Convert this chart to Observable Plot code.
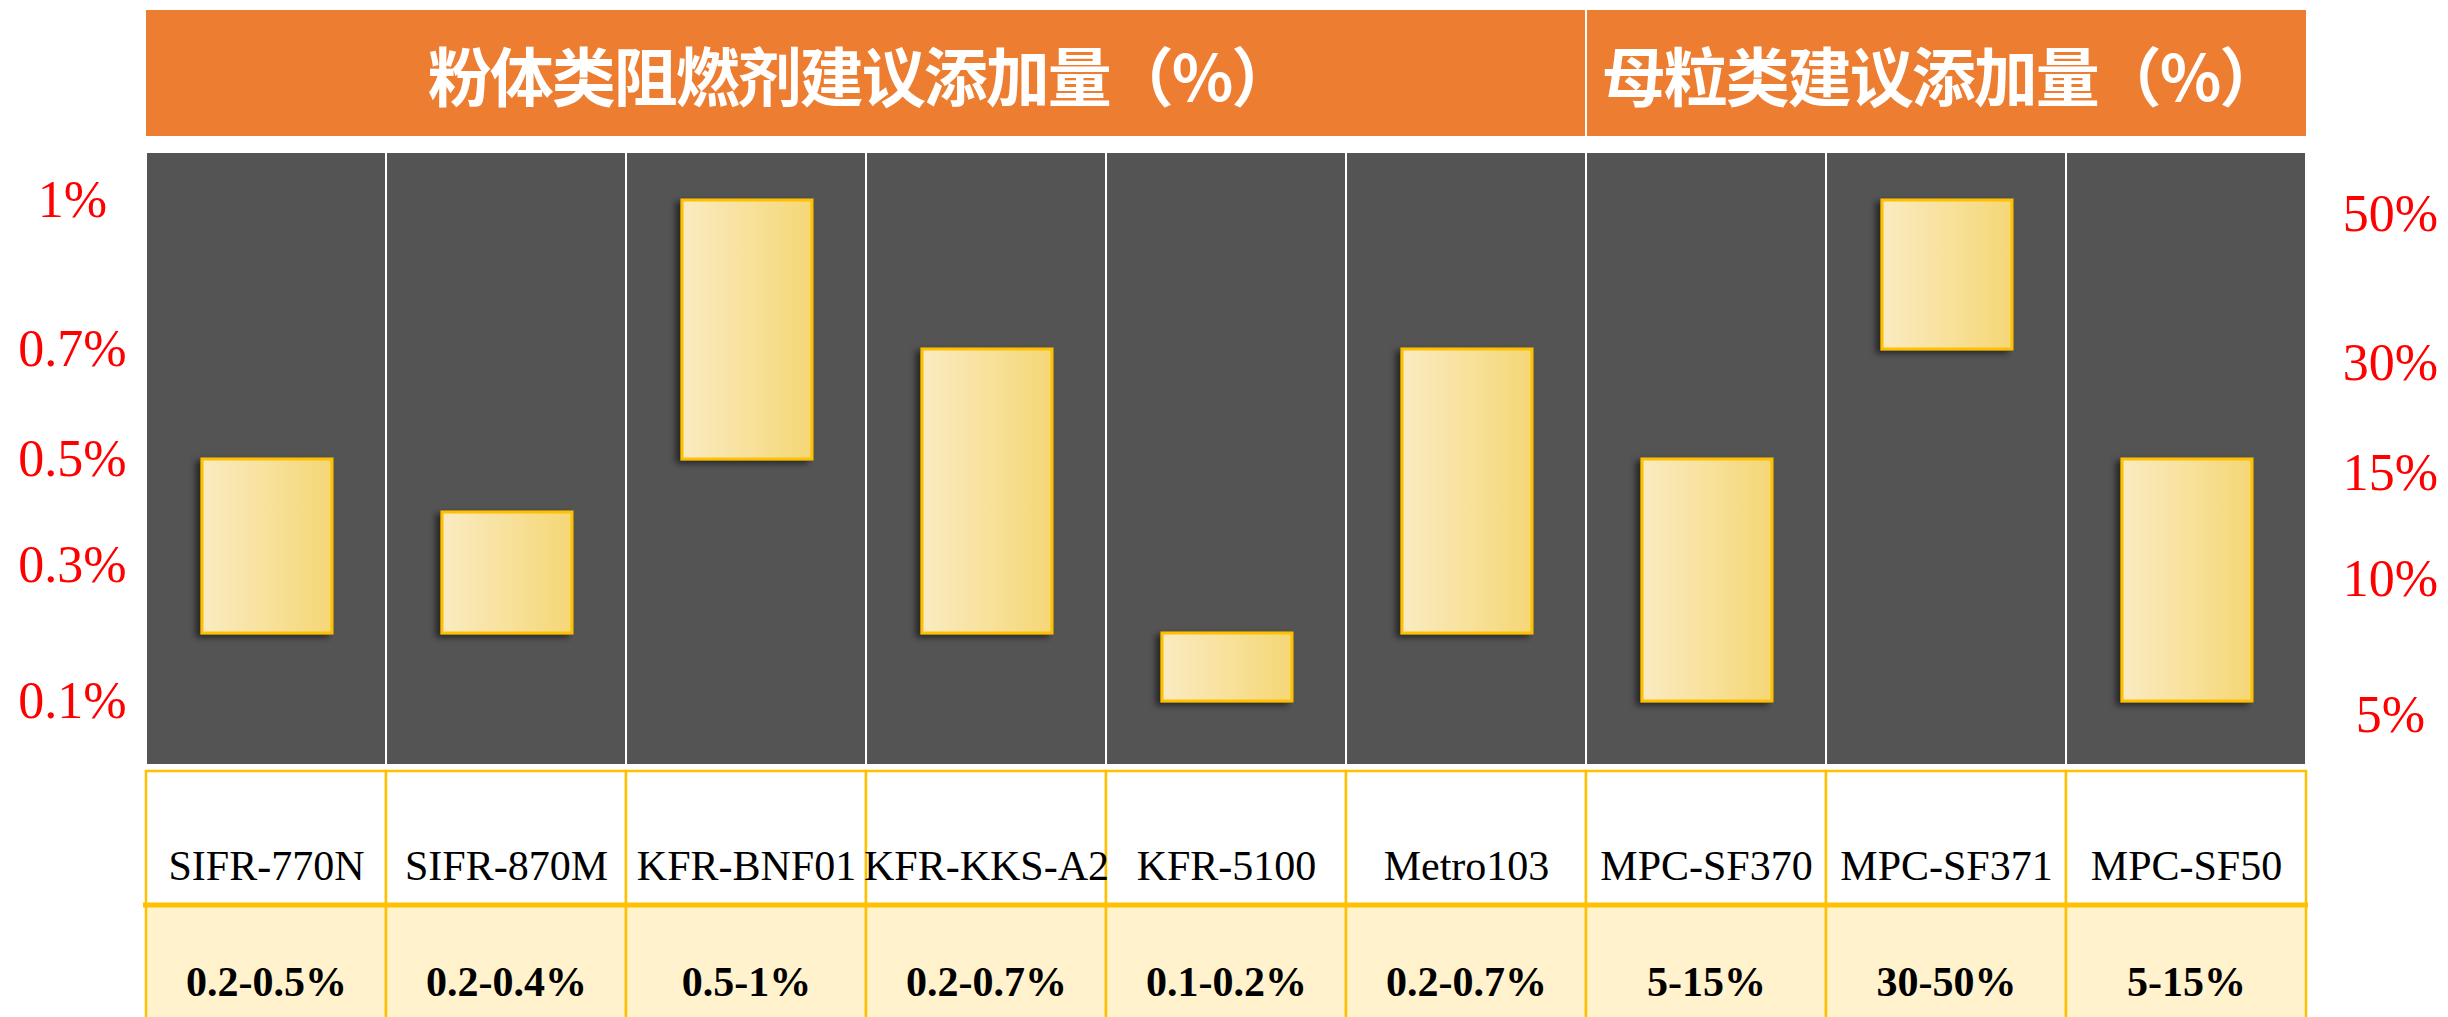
<!DOCTYPE html>
<html>
<head>
<meta charset="utf-8">
<script src="https://cdn.jsdelivr.net/npm/d3@7"></script>
<script src="https://cdn.jsdelivr.net/npm/@observablehq/plot@0.6"></script>
<style>
  html, body { margin: 0; padding: 0; background: #fff; overflow: hidden; }
  #page { position: relative; width: 2448px; height: 1017px; }
  .hdr { position: absolute; top: 10px; height: 126px; background: #ED7D31; color: #fff;
         display: flex; align-items: center; justify-content: center; box-sizing: border-box;
         font-family: "Noto Sans CJK SC", sans-serif; font-weight: 700; font-size: 64px;
         letter-spacing: -2px; white-space: nowrap; }
  #main, #table { position: absolute; left: 0; }
  #main { top: 152px; }
  #table { top: 768px; }
</style>
</head>
<body>
<div id="page">
  <div id="header"></div>
  <div id="main"></div>
  <div id="table"></div>
</div>
<script>
// ---- data ----
const groupTitles = ["粉体类阻燃剂建议添加量（%）", "母粒类建议添加量（%）"];
const powderNames = ["SIFR-770N", "SIFR-870M", "KFR-BNF01", "KFR-KKS-A2", "KFR-5100", "Metro103"];
const masterNames = ["MPC-SF370", "MPC-SF371", "MPC-SF50"];
const powderLow = [0.2, 0.2, 0.5, 0.2, 0.1, 0.2];
const powderHigh = [0.5, 0.4, 1, 0.7, 0.2, 0.7];
const masterLow = [5, 30, 5];
const masterHigh = [15, 50, 15];
const rangeLabels = ["0.2-0.5%", "0.2-0.4%", "0.5-1%", "0.2-0.7%", "0.1-0.2%", "0.2-0.7%", "5-15%", "30-50%", "5-15%"];
const leftTicks = [0.1, 0.3, 0.5, 0.7, 1];
const rightTicks = [5, 10, 15, 30, 50];

// ---- derived ----
const names = [...powderNames, ...masterNames];
// right (masterbatch) axis values share the same tick slots as the left axis
const masterToLeft = d3.scaleLinear().domain(rightTicks).range(leftTicks);
const rows = [
  ...powderNames.map((n, i) => ({name: n, group: 0, lo: powderLow[i], hi: powderHigh[i]})),
  ...masterNames.map((n, i) => ({name: n, group: 1, lo: masterToLeft(masterLow[i]), hi: masterToLeft(masterHigh[i])}))
];
const tableRows = names.map((n, i) => ({name: n, label: rangeLabels[i]}));

const W = 2448, ML = 143, MR = 140;
const xScale = {type: "band", domain: names, padding: 0, axis: null};
const GOLD = "#FFC000";

// ---- main panel ----
const main = Plot.plot({
  width: W, height: 616,
  marginLeft: ML, marginRight: MR, marginTop: 0, marginBottom: 3,
  style: {background: "transparent", fontFamily: "Liberation Serif, serif"},
  x: xScale,
  y: {type: "linear", domain: leftTicks, range: [549, 413, 307, 197, 48], axis: null},
  marks: [
    Plot.cell(names, {x: d => d, fill: "#545454", stroke: "#ffffff", strokeWidth: 2}),
    Plot.barY(rows, {x: "name", y1: "lo", y2: "hi", fill: "url(#barGrad)", stroke: GOLD, strokeWidth: 3,
                     insetLeft: 56, insetRight: 54}),
    Plot.text(leftTicks, {y: d => d, text: d => d + "%", frameAnchor: "left", textAnchor: "middle", dx: -71,
                          fill: "#FF0000", fontSize: 52, fontFamily: "Liberation Serif, serif"}),
    Plot.text(rightTicks, {y: d => masterToLeft(d), text: d => d + "%", frameAnchor: "right", textAnchor: "middle",
                           dx: 82, dy: 14, fill: "#FF0000", fontSize: 52, fontFamily: "Liberation Serif, serif"})
  ]
});
{
  const svg = d3.select(main);
  const defs = svg.insert("defs", ":first-child");
  const g = defs.append("linearGradient").attr("id", "barGrad").attr("x1", "0").attr("x2", "1").attr("y1", "0").attr("y2", "0");
  g.append("stop").attr("offset", "0").attr("stop-color", "#FAEBC2");
  g.append("stop").attr("offset", "1").attr("stop-color", "#F5D775");
  const f = defs.append("filter").attr("id", "shadow").attr("x", "-20%").attr("y", "-20%").attr("width", "140%").attr("height", "140%");
  f.append("feDropShadow").attr("dx", -5).attr("dy", 3).attr("stdDeviation", 3)
    .attr("flood-color", "#000").attr("flood-opacity", 0.55);
  svg.selectAll('g[aria-label="bar"] rect').attr("fill", "url(#barGrad)").attr("filter", "url(#shadow)");
}
document.getElementById("main").appendChild(main);

// ---- header (aligned with the main x scale) ----
const xs = main.scale("x");
const bw = xs.bandwidth;
const groupsExtent = [
  [xs.apply(powderNames[0]), xs.apply(powderNames[powderNames.length - 1]) + bw],
  [xs.apply(masterNames[0]), xs.apply(masterNames[masterNames.length - 1]) + bw]
];
const header = document.getElementById("header");
groupsExtent.forEach(([a, b], i) => {
  const d = document.createElement("div");
  d.className = "hdr";
  const left = i === 0 ? a : a + 1;
  const right = i === 0 ? b - 1 : b;
  d.style.left = left + "px";
  d.style.width = (right - left) + "px";
  d.style.paddingRight = "10px";
  d.textContent = groupTitles[i];
  header.appendChild(d);
});

// ---- table ----
const table = Plot.plot({
  width: W, height: 249,
  marginLeft: ML, marginRight: MR, marginTop: 0, marginBottom: 0,
  style: {background: "transparent", fontFamily: "Liberation Serif, serif"},
  x: xScale,
  y: {type: "linear", domain: [0, 2], range: [3, 270], axis: null},
  marks: [
    Plot.barY(tableRows, {x: "name", y1: 0, y2: 1, fill: "#ffffff", stroke: GOLD, strokeWidth: 2.5}),
    Plot.barY(tableRows, {x: "name", y1: 1, y2: 2, fill: "#FFF2CC", stroke: GOLD, strokeWidth: 2.5}),
    Plot.ruleY([1], {stroke: GOLD, strokeWidth: 5}),
    Plot.text(tableRows, {x: "name", y: 0.5, dy: 28, text: "name", fill: "#000", fontSize: 42,
                          fontFamily: "Liberation Serif, serif"}),
    Plot.text(tableRows, {x: "name", y: 1.5, dy: 11, text: "label", fill: "#000", fontSize: 42, fontWeight: "bold",
                          fontFamily: "Liberation Serif, serif"})
  ]
});
document.getElementById("table").appendChild(table);
</script>
</body>
</html>
